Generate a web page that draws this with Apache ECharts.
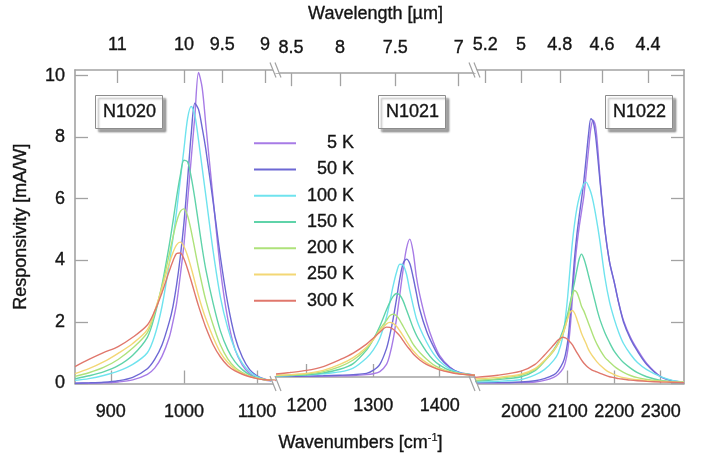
<!DOCTYPE html>
<html>
<head>
<meta charset="utf-8">
<script src="https://cdn.jsdelivr.net/npm/echarts@6/dist/echarts.min.js"></script>
<style>
  html, body { margin: 0; padding: 0; background: #ffffff; }
  #chart { width: 707px; height: 465px; }
</style>
</head>
<body>
<div id="chart"></div>
<script>
// Operating temperatures (legend order) and their line colours
const temperatures = ['5 K', '50 K', '100 K', '150 K', '200 K', '250 K', '300 K'];
const lineColors = ['#a77be6', '#6d68d4', '#6fe3ee', '#5fd3a9', '#aee27a', '#f3d775', '#e0776c'];

// Detector names, one per axis segment
const detectorNames = ['N1020', 'N1021', 'N1022'];

// Wavenumber sample points of each segment (cm^-1)
const wavenumbersN1020 = [851, 870, 890, 910, 930, 950, 960, 970, 980, 985, 990, 995, 1000, 1005, 1010, 1015, 1020, 1025, 1030, 1040, 1050, 1060, 1070, 1080, 1090, 1100, 1112, 1126];
const wavenumbersN1021 = [1154, 1175, 1200, 1225, 1250, 1270, 1290, 1300, 1310, 1320, 1325, 1330, 1335, 1340, 1345, 1350, 1355, 1360, 1365, 1370, 1380, 1390, 1400, 1415, 1430, 1453];
const wavenumbersN1022 = [1901, 1950, 2000, 2030, 2050, 2070, 2080, 2090, 2095, 2100, 2105, 2110, 2115, 2120, 2125, 2130, 2135, 2140, 2145, 2150, 2155, 2160, 2165, 2170, 2180, 2190, 2200, 2210, 2220, 2235, 2250, 2270, 2300, 2325, 2350];

// Responsivity in mA/W, one row per temperature (5 K ... 300 K)
const responsivityN1020 = [
  [0.0, 0.01, 0.02, 0.05, 0.12, 0.3, 0.5, 0.88, 1.5, 2.0, 2.6, 3.5, 4.5, 5.9, 7.3, 8.7, 10.1, 9.6, 8.4, 6.0, 3.7, 2.1, 1.1, 0.6, 0.32, 0.18, 0.1, 0.06],
  [0.01, 0.02, 0.04, 0.09, 0.2, 0.48, 0.78, 1.25, 2.0, 2.5, 3.2, 4.1, 5.2, 6.6, 8.1, 9.1, 8.9, 8.3, 7.6, 5.9, 4.1, 2.6, 1.5, 0.85, 0.45, 0.25, 0.13, 0.08],
  [0.1, 0.16, 0.26, 0.4, 0.62, 1.0, 1.55, 2.5, 3.9, 4.7, 5.6, 6.6, 7.6, 8.6, 9.0, 8.7, 7.9, 7.0, 6.1, 4.3, 2.8, 1.8, 1.1, 0.65, 0.38, 0.22, 0.12, 0.08],
  [0.15, 0.25, 0.38, 0.58, 0.92, 1.5, 2.2, 3.2, 4.5, 5.25, 6.05, 6.75, 7.25, 7.2, 6.7, 6.0, 5.2, 4.4, 3.7, 2.6, 1.7, 1.1, 0.7, 0.45, 0.28, 0.18, 0.12, 0.09],
  [0.23, 0.35, 0.52, 0.78, 1.15, 1.65, 2.3, 3.15, 4.2, 4.75, 5.25, 5.58, 5.67, 5.45, 4.95, 4.35, 3.75, 3.2, 2.7, 1.9, 1.25, 0.8, 0.52, 0.35, 0.24, 0.17, 0.12, 0.1],
  [0.32, 0.48, 0.7, 0.98, 1.3, 1.75, 2.35, 3.1, 3.9, 4.25, 4.5, 4.59, 4.45, 4.15, 3.75, 3.3, 2.85, 2.45, 2.1, 1.5, 1.0, 0.68, 0.46, 0.32, 0.23, 0.17, 0.12, 0.1],
  [0.55, 0.78, 1.0, 1.2, 1.5, 1.9, 2.35, 2.95, 3.65, 3.98, 4.22, 4.24, 4.05, 3.72, 3.33, 2.92, 2.52, 2.16, 1.82, 1.26, 0.86, 0.58, 0.41, 0.3, 0.22, 0.16, 0.12, 0.1]
];
const responsivityN1021 = [
  [0.02, 0.02, 0.02, 0.03, 0.04, 0.05, 0.08, 0.11, 0.18, 0.42, 0.75, 1.25, 1.95, 2.75, 3.6, 4.3, 4.62, 4.2, 3.35, 2.75, 1.85, 1.2, 0.72, 0.33, 0.14, 0.05],
  [0.02, 0.02, 0.03, 0.04, 0.06, 0.08, 0.12, 0.22, 0.42, 0.95, 1.4, 1.95, 2.6, 3.3, 3.8, 3.95, 3.8, 3.35, 2.8, 2.26, 1.55, 1.05, 0.65, 0.32, 0.15, 0.06],
  [0.03, 0.05, 0.07, 0.11, 0.17, 0.3, 0.64, 0.9, 1.3, 2.0, 2.5, 3.05, 3.5, 3.78, 3.75, 3.45, 2.9, 2.4, 1.95, 1.65, 1.18, 0.8, 0.53, 0.27, 0.14, 0.07],
  [0.04, 0.05, 0.07, 0.14, 0.26, 0.45, 0.9, 1.25, 1.7, 2.25, 2.5, 2.7, 2.8, 2.75, 2.55, 2.25, 1.95, 1.65, 1.4, 1.2, 0.85, 0.58, 0.4, 0.22, 0.12, 0.06],
  [0.05, 0.07, 0.1, 0.18, 0.35, 0.57, 0.95, 1.25, 1.6, 1.9, 2.05, 2.1, 2.05, 1.9, 1.7, 1.5, 1.3, 1.1, 0.95, 0.82, 0.6, 0.42, 0.3, 0.18, 0.11, 0.06],
  [0.06, 0.08, 0.12, 0.22, 0.42, 0.65, 1.0, 1.25, 1.55, 1.78, 1.83, 1.8, 1.7, 1.55, 1.38, 1.2, 1.03, 0.88, 0.76, 0.65, 0.48, 0.35, 0.26, 0.17, 0.11, 0.06],
  [0.1, 0.15, 0.22, 0.35, 0.58, 0.8, 1.1, 1.3, 1.5, 1.67, 1.66, 1.6, 1.5, 1.38, 1.22, 1.06, 0.92, 0.78, 0.67, 0.57, 0.42, 0.32, 0.24, 0.16, 0.1, 0.06]
];
const responsivityN1022 = [
  [0.02, 0.02, 0.03, 0.05, 0.1, 0.2, 0.3, 0.48, 0.68, 1.05, 1.72, 2.7, 3.75, 4.5, 5.1, 5.6, 6.1, 6.85, 7.6, 8.3, 8.55, 8.35, 7.6, 6.6, 5.0, 3.95, 3.3, 2.6, 2.05, 1.5, 1.1, 0.65, 0.22, 0.08, 0.03],
  [0.03, 0.03, 0.05, 0.09, 0.16, 0.28, 0.42, 0.68, 0.92, 1.35, 2.1, 3.1, 4.1, 4.85, 5.45, 6.0, 6.6, 7.35, 8.1, 8.6, 8.5, 8.05, 7.3, 6.5, 5.0, 3.95, 3.3, 2.6, 2.0, 1.45, 1.05, 0.62, 0.22, 0.09, 0.04],
  [0.05, 0.07, 0.13, 0.28, 0.45, 0.75, 1.0, 1.55, 2.1, 2.8, 3.7, 4.55, 5.2, 5.7, 6.05, 6.3, 6.48, 6.54, 6.4, 6.2, 5.9, 5.5, 5.05, 4.55, 3.45, 2.65, 2.1, 1.65, 1.3, 0.95, 0.68, 0.45, 0.22, 0.1, 0.05],
  [0.08, 0.13, 0.22, 0.42, 0.72, 1.1, 1.35, 1.72, 1.98, 2.25, 2.6, 2.95, 3.3, 3.7, 4.05, 4.2, 4.05, 3.8, 3.5, 3.2, 2.9, 2.6, 2.3, 2.05, 1.65, 1.33, 1.05, 0.85, 0.68, 0.5, 0.35, 0.22, 0.1, 0.06, 0.04],
  [0.1, 0.16, 0.27, 0.45, 0.72, 1.05, 1.3, 1.62, 1.85, 2.15, 2.5, 2.85, 3.02, 2.95, 2.75, 2.5, 2.35, 2.15, 1.95, 1.75, 1.55, 1.37, 1.22, 1.08, 0.85, 0.7, 0.56, 0.45, 0.36, 0.26, 0.19, 0.13, 0.08, 0.05, 0.04],
  [0.15, 0.2, 0.3, 0.48, 0.75, 1.08, 1.3, 1.62, 1.85, 2.1, 2.3, 2.37, 2.28, 2.08, 1.85, 1.62, 1.45, 1.28, 1.1, 0.97, 0.86, 0.76, 0.67, 0.59, 0.46, 0.36, 0.29, 0.23, 0.19, 0.15, 0.12, 0.09, 0.07, 0.05, 0.04],
  [0.2, 0.27, 0.4, 0.62, 0.92, 1.25, 1.42, 1.5, 1.48, 1.43, 1.35, 1.26, 1.13, 1.0, 0.88, 0.76, 0.66, 0.58, 0.51, 0.46, 0.42, 0.39, 0.36, 0.33, 0.27, 0.22, 0.19, 0.16, 0.14, 0.11, 0.09, 0.07, 0.05, 0.04, 0.03]
];

// Tick labels: wavenumbers (bottom), wavelengths in µm (top), responsivity (left)
const wavenumberTicksN1020 = [900, 1000, 1100];
const wavenumberTicksN1021 = [1200, 1300, 1400];
const wavenumberTicksN1022 = [2000, 2100, 2200, 2300];
const wavelengthTicksN1020 = [11, 10, 9.5, 9];
const wavelengthTicksN1021 = [8.5, 8, 7.5, 7];
const wavelengthTicksN1022 = [5.2, 5, 4.8, 4.6, 4.4];
const responsivityTicks = [0, 2, 4, 6, 8, 10];

// ---- layout ----
const plotTop = 70;
const plotHeight = 313.5;
const yMax = 10.18;
const segments = [
  { left: 75,  width: 201, min: 851,  max: 1126, x: wavenumbersN1020, rows: responsivityN1020, ticks: wavenumberTicksN1020, wl: wavelengthTicksN1020, box: 95 },
  { left: 276, width: 199, min: 1154, max: 1453, x: wavenumbersN1021, rows: responsivityN1021, ticks: wavenumberTicksN1021, wl: wavelengthTicksN1021, box: 378 },
  { left: 475, width: 209, min: 1901, max: 2350, x: wavenumbersN1022, rows: responsivityN1022, ticks: wavenumberTicksN1022, wl: wavelengthTicksN1022, box: 605 }
];

const axisGray = '#a2a2a2';
const textColor = '#141414';
const fontFamily = '"Liberation Sans", Arial, Helvetica, sans-serif';
const fontSize = 18;
// slightly heavier strokes for all text
const textWeight = { color: textColor, fontFamily: fontFamily, fontSize: fontSize, textBorderColor: textColor, textBorderWidth: 0.35 };

const axisLine = { show: true, lineStyle: { color: axisGray, width: 1.6 } };
const tickStyle = { color: axisGray, width: 1.3 };

function formatWavelength(v) {
  return String(Math.round(1e5 / v) / 10);
}

const grids = [];
const xAxes = [];
const yAxes = [];
const series = [];

segments.forEach((s, i) => {
  grids.push({ left: s.left, width: s.width, top: plotTop, height: plotHeight });

  const wlPositions = s.wl.map(l => 1e4 / l);

  // bottom: wavenumber axis
  xAxes.push({
    type: 'value', gridIndex: i, position: 'bottom', min: s.min, max: s.max,
    axisLine: axisLine,
    axisTick: { show: true, inside: true, length: 13, customValues: s.ticks, lineStyle: tickStyle },
    axisLabel: Object.assign({ show: true, customValues: s.ticks, margin: 20, formatter: v => String(v) }, textWeight),
    splitLine: { show: false },
    name: i === 1 ? '{t|Wavenumbers [cm}{s|-1}{t|]}' : '',
    nameLocation: 'middle',
    nameGap: 55,
    nameTextStyle: {
      padding: [0, 30, 0, 0],
      rich: {
        t: Object.assign({ lineHeight: 20, verticalAlign: 'bottom' }, textWeight),
        s: Object.assign({}, textWeight, { fontSize: 11, lineHeight: 11, padding: [0, 0, 17, 0], verticalAlign: 'top', textBorderWidth: 0.2 })
      }
    }
  });

  // top: wavelength axis
  xAxes.push({
    type: 'value', gridIndex: i, position: 'top', min: s.min, max: s.max,
    axisLine: axisLine,
    axisTick: { show: true, inside: true, length: 13, customValues: wlPositions, lineStyle: tickStyle },
    axisLabel: Object.assign({ show: true, customValues: wlPositions, margin: 16, formatter: formatWavelength }, textWeight),
    splitLine: { show: false },
    name: i === 1 ? 'Wavelength [µm]' : '',
    nameLocation: 'middle',
    nameGap: 50,
    nameTextStyle: Object.assign({}, textWeight)
  });

  // responsivity axis
  const yBase = { type: 'value', gridIndex: i, min: 0, max: yMax, splitLine: { show: false } };
  if (i === 0) {
    yAxes.push(Object.assign(yBase, {
      position: 'left',
      axisLine: axisLine,
      axisTick: { show: true, inside: true, length: 13, customValues: responsivityTicks, lineStyle: tickStyle },
      axisLabel: Object.assign({ show: true, customValues: responsivityTicks, margin: 10 }, textWeight),
      name: 'Responsivity [mA/W]', nameLocation: 'middle', nameGap: 45,
      nameTextStyle: Object.assign({}, textWeight)
    }));
  } else if (i === segments.length - 1) {
    yAxes.push(Object.assign(yBase, {
      position: 'right',
      axisLine: axisLine,
      axisTick: { show: true, inside: true, length: 13, customValues: responsivityTicks, lineStyle: tickStyle },
      axisLabel: { show: false }
    }));
  } else {
    yAxes.push(Object.assign(yBase, { show: false }));
  }

  temperatures.forEach((t, k) => {
    series.push({
      type: 'line',
      name: t,
      xAxisIndex: 2 * i,
      yAxisIndex: i,
      data: s.x.map((w, j) => [w, s.rows[k][j]]),
      showSymbol: false,
      smooth: 0.3,
      clip: true,
      silent: true,
      lineStyle: { color: lineColors[k], width: 1.4 },
      itemStyle: { color: lineColors[k] }
    });
  });
});

// axis-break marks ("\\") on the top and bottom frame lines
const graphics = [];
const breakXs = [segments[1].left, segments[2].left];
const frameYs = [plotTop, plotTop + plotHeight];
breakXs.forEach(bx => {
  frameYs.forEach(by => {
    graphics.push({
      type: 'polygon', z: 100, silent: true,
      shape: { points: [[bx - 5.5, by - 3], [bx - 1, by - 3], [bx + 4, by + 3], [bx - 0.5, by + 3]] },
      style: { fill: '#ffffff' }
    });
    [-3, 2].forEach(dx => {
      graphics.push({
        type: 'line', z: 101, silent: true,
        shape: { x1: bx + dx - 3, y1: by - 7.5, x2: bx + dx + 3, y2: by + 7.5 },
        style: { stroke: axisGray, lineWidth: 1.2 }
      });
    });
  });
});

const chart = echarts.init(document.getElementById('chart'), null, { renderer: 'canvas' });
chart.setOption({
  animation: false,
  backgroundColor: '#ffffff',
  title: detectorNames.map((name, i) => ({
    text: name,
    left: segments[i].box,
    top: 95,
    padding: [7, 7, 7, 8],
    backgroundColor: '#ffffff',
    borderColor: '#8c8c8c',
    borderWidth: 1,
    shadowColor: 'rgba(0,0,0,0.35)',
    shadowBlur: 2,
    shadowOffsetX: 3,
    shadowOffsetY: 3,
    textStyle: Object.assign({ fontWeight: 'normal', lineHeight: 20 }, textWeight)
  })),
  legend: {
    data: temperatures,
    orient: 'vertical',
    left: 249,
    top: 129,
    icon: 'rect',
    itemWidth: 42,
    itemHeight: 2,
    itemGap: 7.9,
    selectedMode: false,
    formatter: name => '{n|' + name + '}',
    textStyle: Object.assign({
      rich: { n: Object.assign({ width: 53, align: 'right', lineHeight: 18 }, textWeight) }
    }, textWeight)
  },
  grid: grids,
  xAxis: xAxes,
  yAxis: yAxes,
  series: series,
  graphic: graphics
});
</script>
</body>
</html>
